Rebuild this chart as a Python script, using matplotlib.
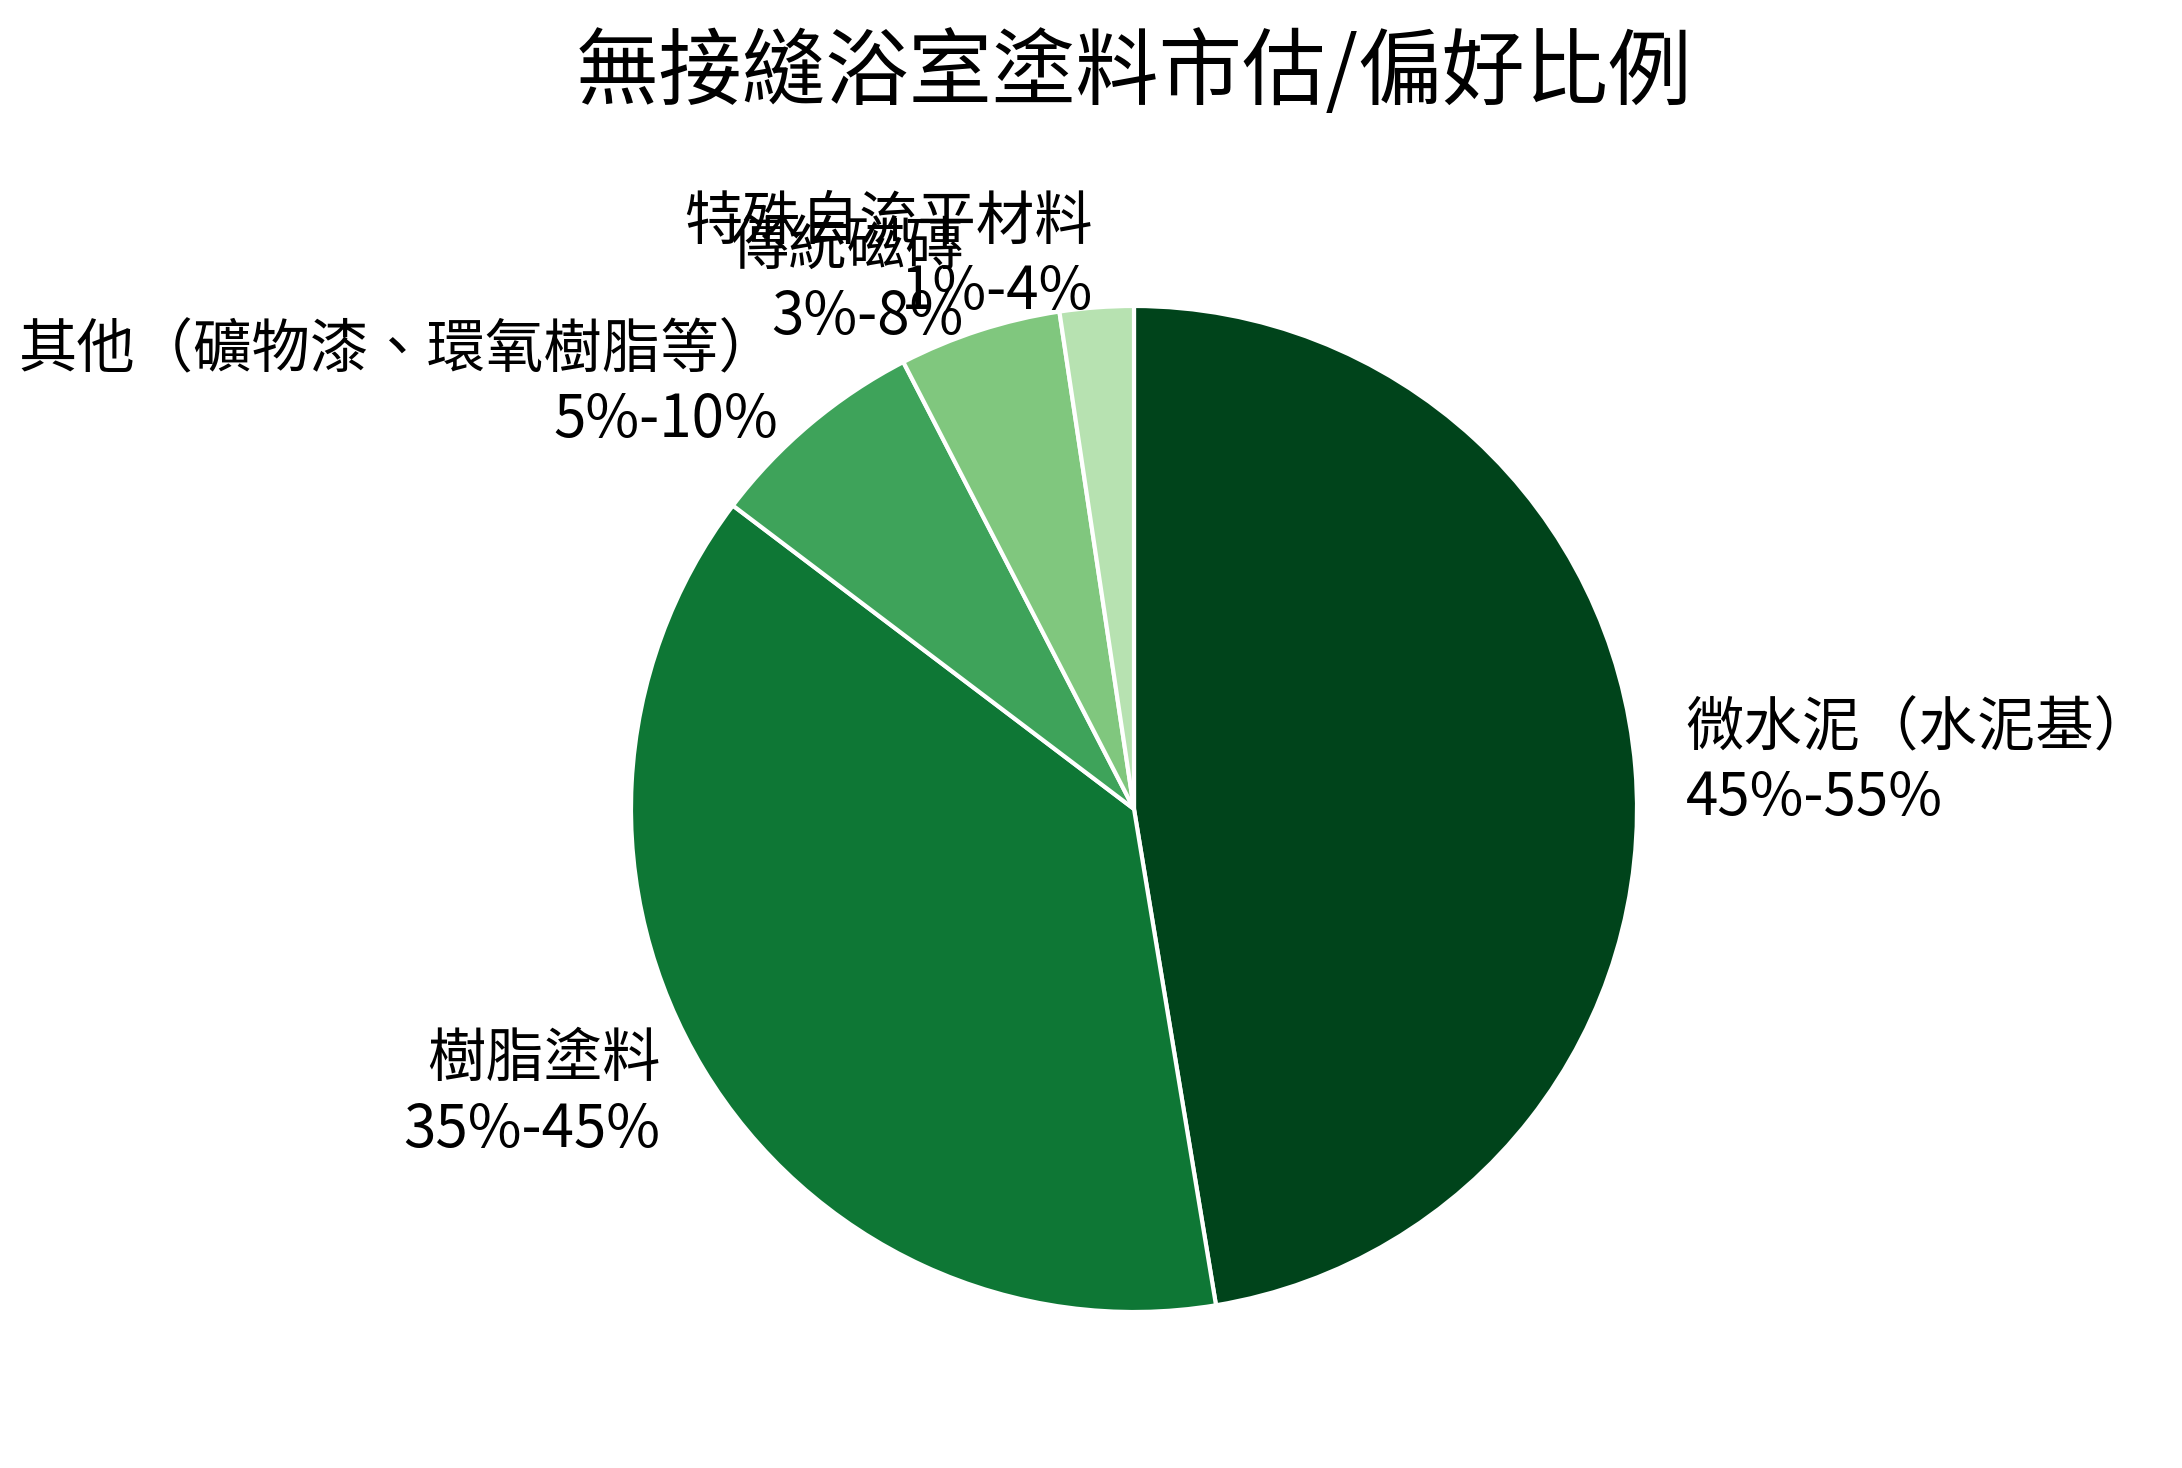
import numpy as np
import matplotlib
matplotlib.use('Agg')
import matplotlib.pyplot as plt

plt.rcParams['font.family'] = ['Noto Sans CJK TC', 'DejaVu Sans']

TITLE = '無接縫浴室塗料市估/偏好比例'
CATEGORIES = ['微水泥（水泥基）', '樹脂塗料', '其他（礦物漆、環氧樹脂等）', '傳統磁磚', '特殊自流平材料']
RANGES = ['45%-55%', '35%-45%', '5%-10%', '3%-8%', '1%-4%']
SHARES = [50, 40, 7.5, 5.5, 2.5]
COLORS = ['#00441b', '#0e7735', '#3ea35a', '#80c77e', '#b7e2b1']

W, H = 2182, 1468
CX, CY, R = 1134, 809, 503


def main():
    fig = plt.figure(figsize=(W / 100, H / 100), dpi=100)
    ax = fig.add_axes([(CX - R) / W, (H - CY - R) / H, 2 * R / W, 2 * R / H])

    labels = [f'{c}\n{r}' for c, r in zip(CATEGORIES, RANGES)]
    ax.pie(SHARES, labels=labels, colors=COLORS, startangle=90, counterclock=False,
           labeldistance=1.1, wedgeprops=dict(edgecolor='white', linewidth=3),
           textprops=dict(fontsize=42, color='black'))
    ax.set_xlim(-1, 1)
    ax.set_ylim(-1, 1)
    ax.set_aspect('equal')
    ax.axis('off')

    fig.text(CX / W, 1 - 74 / H, TITLE, ha='center', va='center', fontsize=60)
    fig.savefig('out.png', dpi=100, facecolor='white')


if __name__ == '__main__':
    main()
